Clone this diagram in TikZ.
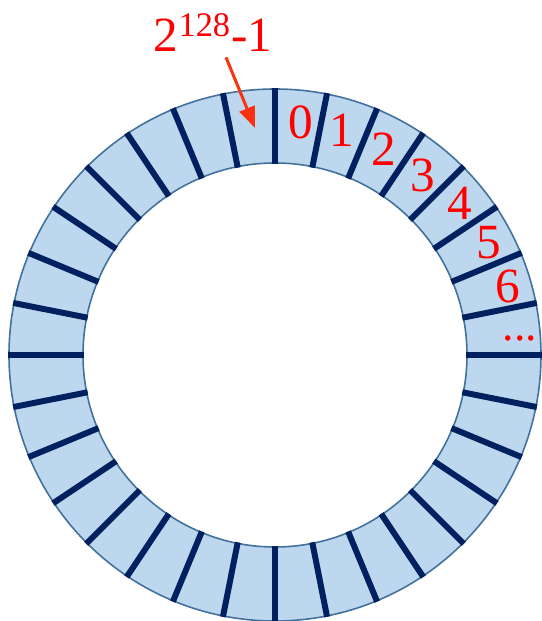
\documentclass[tikz,border=0pt]{standalone}
\usepackage{fontspec}
\setmainfont{Liberation Serif}
\usetikzlibrary{arrows.meta}
\definecolor{ringfill}{RGB}{189,215,238}
\definecolor{ringline}{RGB}{65,113,156}
\definecolor{tickcol}{RGB}{0,32,96}
\definecolor{labcol}{RGB}{255,0,0}
\definecolor{arrcol}{RGB}{250,50,15}

\begin{document}
\begin{tikzpicture}[>={Triangle[length=0.42cm,width=0.32cm]}]
\useasboundingbox (-5.5,-5.32) rectangle (5.32,7.1);
% the ring, 32 slots
\fill[ringfill,even odd rule] (0,0) circle (5.32) (0,0) circle (3.84);
\draw[ringline,line width=0.9pt] (0,0) circle (5.32);
\draw[ringline,line width=0.9pt] (0,0) circle (3.84);
\foreach \a in {0,11.25,...,349} \draw[tickcol,line width=3.4pt] (\a:3.82) -- (\a:5.34);
% slot numbers
\foreach \a/\r/\t [count=\i] in {83.6/4.68/0,73.4/4.70/1,62/4.65/2,50.6/4.66/3,39.4/4.78/4,27.7/4.82/5,16.3/4.86/6}
  \node[labcol,font=\fontsize{28}{30}\selectfont,inner sep=0pt] (slot\i) at (\a:\r) {\t};
\node[labcol,font=\fontsize{26}{30}\selectfont,inner sep=0pt,anchor=base] (slotdots) at (4.9,0.28) {...};
% the last slot
\node[labcol,font=\fontsize{28}{30}\selectfont,inner sep=0pt,anchor=base] (maxlbl) at (-1.24,6.06) {2\textsuperscript{128}-1};
\coordinate (maxslot) at (-0.4,4.54);
\draw[arrcol,line width=1.7pt,->] ([xshift=0.26cm,yshift=-0.1cm]maxlbl.south) -- (maxslot);
\end{tikzpicture}
\end{document}
